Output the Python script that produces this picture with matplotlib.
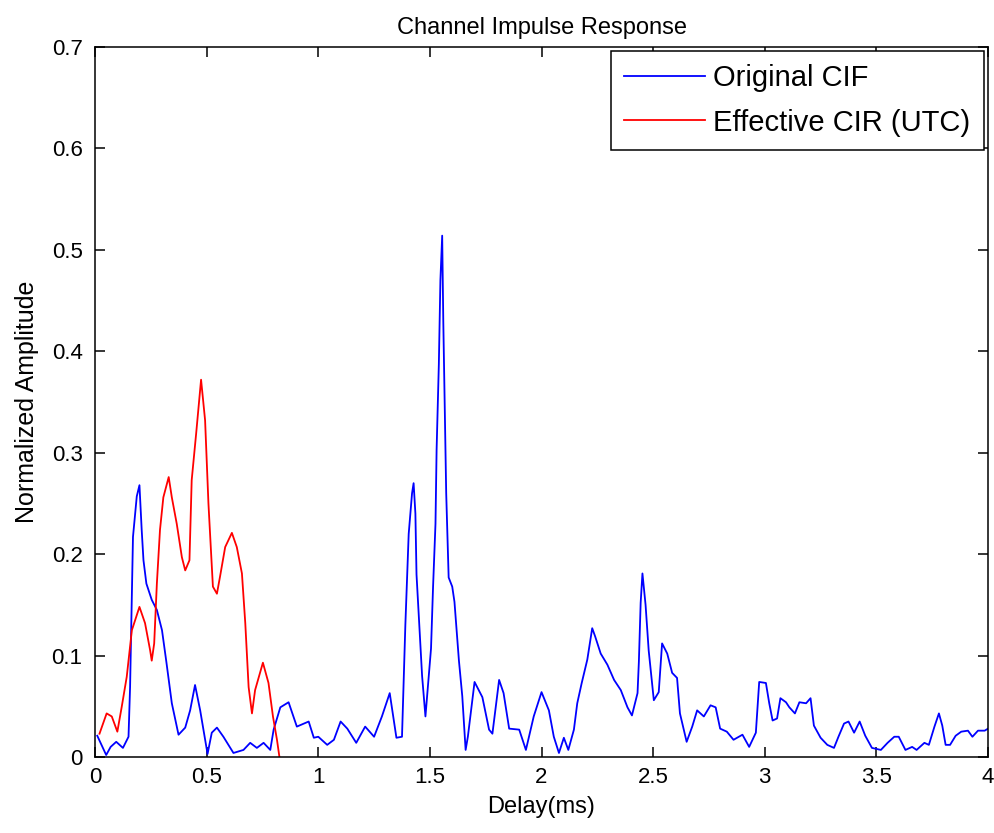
import matplotlib.pyplot as plt

plt.rcParams['font.family'] = ['Liberation Sans', 'DejaVu Sans']

# Data ########################################################

orig_x = [0.01, 0.05, 0.07, 0.095, 0.125, 0.15, 0.157, 0.165, 0.17, 0.187,
          0.199, 0.209, 0.217, 0.23, 0.254, 0.277, 0.3, 0.32, 0.344, 0.374,
          0.404, 0.426, 0.448, 0.471, 0.493, 0.504, 0.523, 0.546, 0.575, 0.62,
          0.665, 0.695, 0.725, 0.755, 0.785, 0.8, 0.83, 0.867, 0.904, 0.957,
          0.98, 1.0, 1.04, 1.07, 1.1, 1.13, 1.17, 1.21, 1.25, 1.285,
          1.32, 1.35, 1.375, 1.39, 1.405, 1.42, 1.427, 1.435, 1.44, 1.455,
          1.465, 1.48, 1.495, 1.505, 1.514, 1.525, 1.53, 1.54, 1.547, 1.555,
          1.56, 1.573, 1.584, 1.6, 1.61, 1.62, 1.63, 1.645, 1.66, 1.67,
          1.7, 1.735, 1.765, 1.78, 1.81, 1.83, 1.855, 1.9, 1.93, 1.965,
          2.0, 2.033, 2.055, 2.078, 2.1, 2.12, 2.145, 2.16, 2.18, 2.205,
          2.227, 2.24, 2.265, 2.295, 2.325, 2.355, 2.385, 2.405, 2.43, 2.436,
          2.444, 2.452, 2.466, 2.48, 2.503, 2.525, 2.54, 2.563, 2.585, 2.607,
          2.62, 2.65, 2.675, 2.697, 2.727, 2.757, 2.78, 2.8, 2.83, 2.86,
          2.9, 2.93, 2.96, 2.975, 3.005, 3.02, 3.035, 3.055, 3.07, 3.095,
          3.11, 3.135, 3.155, 3.185, 3.205, 3.22, 3.25, 3.28, 3.31, 3.33,
          3.355, 3.375, 3.4, 3.425, 3.45, 3.48, 3.52, 3.55, 3.58, 3.6,
          3.63, 3.66, 3.68, 3.715, 3.735, 3.76, 3.78, 3.795, 3.81, 3.83,
          3.855, 3.88, 3.91, 3.93, 3.955, 3.985, 4.0]
orig_y = [0.021, 0.002, 0.01, 0.015, 0.009, 0.02, 0.069, 0.16, 0.217, 0.257,
          0.268, 0.224, 0.194, 0.171, 0.155, 0.145, 0.125, 0.093, 0.053, 0.022,
          0.029, 0.046, 0.071, 0.046, 0.017, 0.003, 0.024, 0.029, 0.02, 0.004,
          0.007, 0.014, 0.009, 0.014, 0.007, 0.027, 0.049, 0.054, 0.03, 0.035,
          0.019, 0.02, 0.012, 0.017, 0.035, 0.028, 0.014, 0.03, 0.02, 0.04,
          0.063, 0.019, 0.02, 0.13, 0.22, 0.26, 0.27, 0.24, 0.18, 0.12,
          0.08, 0.04, 0.08, 0.107, 0.167, 0.23, 0.303, 0.387, 0.47, 0.514,
          0.429, 0.26, 0.177, 0.168, 0.153, 0.124, 0.095, 0.06, 0.007, 0.02,
          0.074, 0.059, 0.027, 0.023, 0.076, 0.063, 0.028, 0.027, 0.007, 0.04,
          0.064, 0.046, 0.02, 0.004, 0.019, 0.007, 0.027, 0.053, 0.073, 0.096,
          0.127, 0.119, 0.102, 0.091, 0.076, 0.066, 0.049, 0.041, 0.063, 0.094,
          0.152, 0.181, 0.15, 0.105, 0.056, 0.064, 0.112, 0.102, 0.083, 0.078,
          0.043, 0.015, 0.03, 0.046, 0.04, 0.051, 0.049, 0.028, 0.025, 0.017,
          0.022, 0.01, 0.024, 0.074, 0.073, 0.053, 0.036, 0.038, 0.058, 0.054,
          0.049, 0.043, 0.054, 0.053, 0.058, 0.031, 0.019, 0.012, 0.009, 0.02,
          0.033, 0.035, 0.024, 0.035, 0.021, 0.009, 0.007, 0.014, 0.02, 0.02,
          0.007, 0.01, 0.007, 0.014, 0.012, 0.03, 0.043, 0.031, 0.012, 0.012,
          0.021, 0.025, 0.026, 0.02, 0.026, 0.026, 0.028]

eff_x = [0.02, 0.052, 0.075, 0.1, 0.12, 0.142, 0.165, 0.199, 0.224, 0.247,
         0.254, 0.265, 0.277, 0.291, 0.306, 0.33, 0.344, 0.366, 0.389, 0.404,
         0.423, 0.433, 0.453, 0.475, 0.493, 0.508, 0.528, 0.546, 0.56, 0.583,
         0.613, 0.635, 0.658, 0.673, 0.688, 0.703, 0.717, 0.752, 0.777, 0.797,
         0.815, 0.826]
eff_y = [0.023, 0.043, 0.04, 0.025, 0.05, 0.079, 0.125, 0.148, 0.132, 0.105,
         0.095, 0.112, 0.171, 0.224, 0.256, 0.276, 0.256, 0.23, 0.197, 0.184,
         0.194, 0.273, 0.319, 0.372, 0.332, 0.25, 0.168, 0.161, 0.178, 0.207,
         0.221, 0.207, 0.181, 0.132, 0.069, 0.043, 0.066, 0.093, 0.073, 0.04,
         0.017, 0.0]

x_ticks = [0, 0.5, 1, 1.5, 2, 2.5, 3, 3.5, 4]
x_labels = ['0', '0.5', '1', '1.5', '2', '2.5', '3', '3.5', '4']
y_ticks = [0, 0.1, 0.2, 0.3, 0.4, 0.5, 0.6, 0.7]
y_labels = ['0', '0.1', '0.2', '0.3', '0.4', '0.5', '0.6', '0.7']

# Plot ########################################################

fig = plt.figure(figsize=(9.94, 8.33), dpi=100)
ax = fig.add_axes([0.0956, 0.0912, 0.8984, 0.8524])

ax.plot(orig_x, orig_y, color='#0000ff', lw=1.3, label='Original CIF')
ax.plot(eff_x, eff_y, color='#ff0000', lw=1.3, label='Effective CIR (UTC)')

ax.set_xlim(0, 4)
ax.set_ylim(0, 0.7)
ax.set_xticks(x_ticks)
ax.set_xticklabels(x_labels)
ax.set_yticks(y_ticks)
ax.set_yticklabels(y_labels)
ax.tick_params(direction='in', length=7, width=1.1, top=True, right=True,
               labelsize=16)
ax.tick_params(axis='x', pad=7)
ax.tick_params(axis='y', pad=9)
for sp in ax.spines.values():
    sp.set_linewidth(1.1)

ax.set_title('Channel Impulse Response', fontsize=17, pad=9)
ax.set_xlabel('Delay(ms)', fontsize=17, labelpad=6)
ax.set_ylabel('Normalized Amplitude', fontsize=18, labelpad=9)

leg = ax.legend(loc='upper right', fontsize=21, handlelength=2.75,
                handletextpad=0.3, labelspacing=0.55, borderaxespad=0.15,
                borderpad=0.45, fancybox=False, framealpha=1,
                edgecolor='black')
leg.get_frame().set_linewidth(1.1)

plt.savefig('out.png')
